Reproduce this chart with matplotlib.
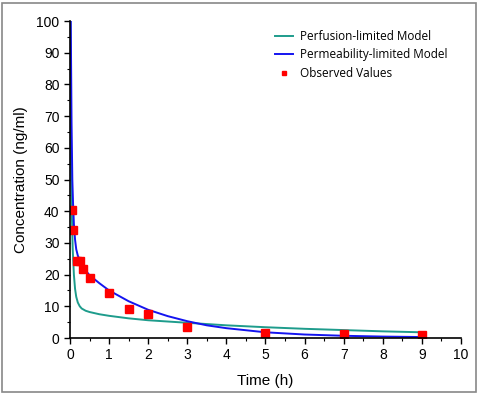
import numpy as np
import matplotlib.pyplot as plt
from matplotlib.patches import Rectangle

# observed data
obs_t = [0.05, 0.083, 0.167, 0.25, 0.33, 0.5, 1.0, 1.5, 2.0, 3.0, 5.0, 7.0, 9.0]
obs_c = [40.3, 34.2, 24.2, 24.3, 21.8, 19.0, 14.1, 9.2, 7.5, 3.6, 1.5, 1.3, 1.1]

# permeability-limited model
perm_t = [0.02, 0.04, 0.06, 0.08, 0.1, 0.13, 0.16, 0.2, 0.3, 0.4, 0.5, 0.75, 1.0,
          1.5, 2.0, 2.5, 3.0, 3.5, 4.0, 5.0, 6.0, 7.0, 8.0, 9.0]
perm_c = [100, 68, 50, 42, 36, 31, 28, 26, 23.2, 21.3, 19.8, 17.3, 15.0,
          11.6, 8.9, 6.9, 5.3, 4.0, 3.1, 1.8, 1.1, 0.7, 0.45, 0.3]

# perfusion-limited model
perf_t = [0.01, 0.02, 0.03, 0.05, 0.07, 0.1, 0.13, 0.16, 0.2, 0.25, 0.3, 0.4, 0.5,
          0.75, 1.0, 1.5, 2.0, 3.0, 4.0, 5.0, 6.0, 7.0, 8.0, 9.0]
perf_c = [100, 80, 55, 38, 28, 20, 15.5, 13, 11.2, 10.0, 9.3, 8.6, 8.2,
          7.5, 7.0, 6.2, 5.6, 4.8, 4.0, 3.4, 2.9, 2.5, 2.1, 1.8]

plt.rcParams['font.family'] = ['Liberation Sans', 'DejaVu Sans']

fig = plt.figure(figsize=(4.78, 3.95), dpi=100)
ax = fig.add_axes([0.1464, 0.1443, 0.818, 0.8025])

ax.plot(perf_t, perf_c, color='#1e9c8c', lw=1.4, label='Perfusion-limited Model')
ax.plot(perm_t, perm_c, color='#1414f0', lw=1.4, label='Permeability-limited Model')
ax.plot(obs_t, obs_c, 's', color='#ff0000', ms=5.5, ls='none', label='Observed Values')

ax.set_xlim(0, 10)
ax.set_ylim(0, 100)
ax.set_xticks(np.arange(0, 11, 1))
ax.set_yticks(np.arange(0, 101, 10))
ax.set_xticks(np.arange(0, 10.01, 0.5), minor=True)
ax.set_yticks(np.arange(0, 100.01, 5), minor=True)
ax.tick_params(which='major', direction='out', length=4, width=1, labelsize=10)
ax.tick_params(which='minor', direction='out', length=2, width=0.8)
for s in ['top', 'right']:
    ax.spines[s].set_visible(False)
ax.spines['left'].set_linewidth(1.2)
ax.spines['bottom'].set_linewidth(1.2)

ax.set_xlabel('Time (h)', fontsize=11, labelpad=8)
ax.set_ylabel('Concentration (ng/ml)', fontsize=11, labelpad=6)

leg = ax.legend(loc='upper left', bbox_to_anchor=(0.497, 1.005), frameon=False,
                prop={'family': 'Open Sans', 'size': 8.5}, handlelength=1.5,
                handletextpad=0.6, labelspacing=0.45, markerscale=0.6)

fig.patches.append(Rectangle((0.005, 0.008), 0.99, 0.985, transform=fig.transFigure,
                             fill=False, edgecolor='#888888', lw=1.2))

fig.savefig('out.png', dpi=100)
